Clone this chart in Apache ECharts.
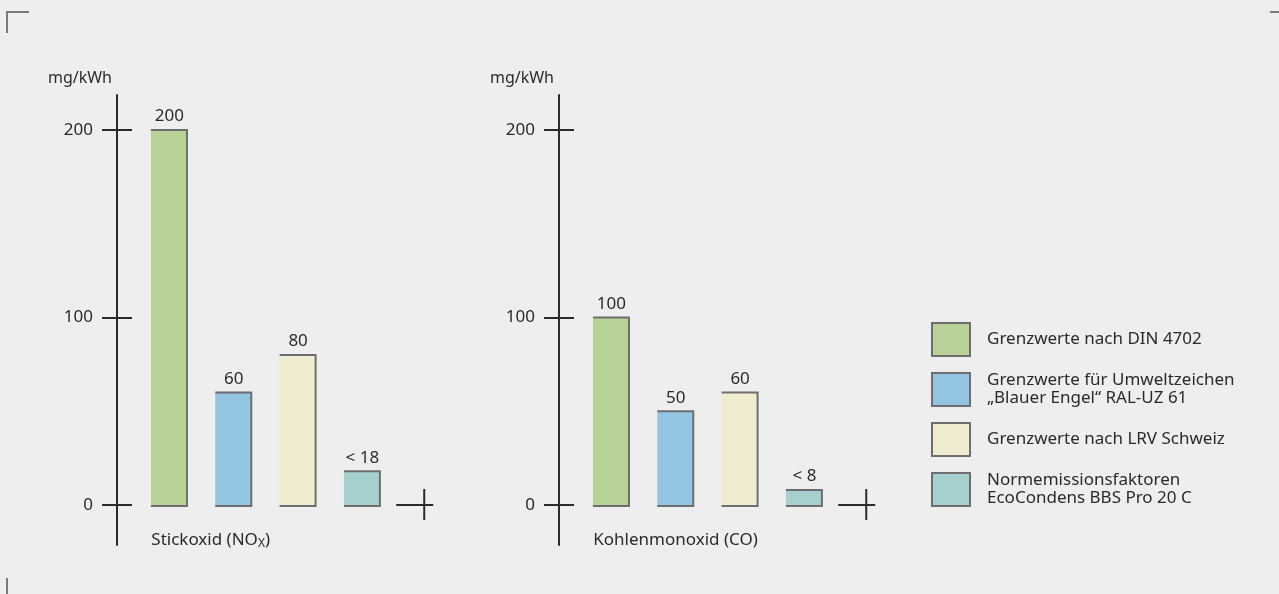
<!DOCTYPE html>
<html>
<head>
<meta charset="utf-8">
<script src="https://cdn.jsdelivr.net/npm/echarts@6/dist/echarts.min.js"></script>
<style>
html,body{margin:0;padding:0;background:#eeeeee;}
#main{width:1279px;height:594px;}
</style>
</head>
<body>
<div id="main"></div>
<script>
const categories = ['DIN 4702', 'Blauer Engel', 'LRV Schweiz', 'EcoCondens', ''];
const legendNames = [
  'Grenzwerte nach DIN 4702',
  'Grenzwerte für Umweltzeichen\n„Blauer Engel“ RAL-UZ 61',
  'Grenzwerte nach LRV Schweiz',
  'Normemissionsfaktoren\nEcoCondens BBS Pro 20 C'
];
const noxValues = [200, 60, 80, 18];
const noxLabels = ['200', '60', '80', '< 18'];
const coValues = [100, 50, 60, 8];
const coLabels = ['100', '50', '60', '< 8'];
const yTicks = [0, 100, 200];
const unitLabel = 'mg/kWh';
const chartTitles = ['Stickoxid (NO{sub|X})', 'Kohlenmonoxid (CO)'];

const colors = ['#b8d298', '#93c4e2', '#f0ecd0', '#a6d0cd'];
const borderColor = '#6e6e70';
const inkColor = '#2a2a2a';
const fontFamily = '"Noto Sans", "Open Sans", sans-serif';
const fontSize = 17;

const chart = echarts.init(document.getElementById('main'), null, {renderer: 'canvas'});

const Y_MIN = -21.33, Y_MAX = 218.67;
const gridLefts = [137.3, 579.3];
const gridW = 321.6;

function makeRender(colorIdx, label) {
  return function (params, api) {
    const base = api.coord([api.value(0), 0]);
    const top = api.coord([api.value(0), api.value(1)]);
    const w = 35;
    const x0 = base[0] - 18.5;
    return {
      type: 'group',
      children: [
        {type: 'rect', shape: {x: x0, y: top[1], width: w + 1, height: base[1] - top[1] + 1},
         style: {fill: colors[colorIdx]}},
        {type: 'polyline',
         shape: {points: [[x0, top[1]], [x0 + w + 1, top[1]], [x0 + w + 1, base[1] + 1], [x0, base[1] + 1]]},
         style: {stroke: borderColor, lineWidth: 2, fill: null}},
        {type: 'text',
         style: {text: label, x: base[0], y: top[1] - 5, align: 'center', verticalAlign: 'bottom',
                 fill: inkColor, font: fontSize + 'px ' + fontFamily}}
      ]
    };
  };
}

const grids = [], xAxes = [], yAxes = [], series = [];
[0, 1].forEach(function (g) {
  grids.push({left: gridLefts[g], width: gridW, top: 95, height: 450});
  xAxes.push({
    type: 'category', gridIndex: g, data: categories,
    axisLine: {show: false, onZero: false}, axisTick: {show: false}, axisLabel: {show: false},
    splitLine: {show: false},
    name: chartTitles[g], nameLocation: 'start', nameGap: -14,
    nameTextStyle: {
      align: 'left', verticalAlign: 'middle', color: inkColor, fontSize: fontSize,
      fontFamily: fontFamily, padding: [0, 0, 10, 0],
      rich: {sub: {fontSize: 12, verticalAlign: 'bottom', padding: [7, 0, 0, 0], color: inkColor, fontFamily: fontFamily}}
    }
  });
  yAxes.push({
    type: 'value', gridIndex: g, min: Y_MIN, max: Y_MAX, position: 'left', offset: 20.3,
    axisLine: {show: true, lineStyle: {color: inkColor, width: 2}},
    axisTick: {show: true, customValues: yTicks, length: 15, lineStyle: {color: inkColor, width: 2}},
    axisLabel: {show: true, customValues: yTicks, margin: 24, color: inkColor, fontSize: fontSize, fontFamily: fontFamily},
    splitLine: {show: false},
    name: unitLabel, nameLocation: 'end', nameGap: 9,
    nameTextStyle: {align: 'right', padding: [0, 5, 0, 0], color: inkColor, fontSize: 16, fontFamily: fontFamily}
  });
  yAxes.push({
    type: 'value', gridIndex: g, min: Y_MIN, max: Y_MAX, position: 'left', offset: 20.3,
    axisLine: {show: false},
    axisTick: {show: true, inside: true, customValues: yTicks, length: 15, lineStyle: {color: inkColor, width: 2}},
    axisLabel: {show: false}, splitLine: {show: false}
  });
  const vals = g === 0 ? noxValues : coValues;
  const labs = g === 0 ? noxLabels : coLabels;
  for (let i = 0; i < 4; i++) {
    series.push({
      type: 'custom', name: legendNames[i], xAxisIndex: g, yAxisIndex: g * 2,
      data: [[i, vals[i]]], renderItem: makeRender(i, labs[i]),
      itemStyle: {color: colors[i]}, silent: true, animation: false
    });
  }
});

chart.setOption({
  backgroundColor: '#eeeeee',
  animation: false,
  grid: grids, xAxis: xAxes, yAxis: yAxes, series: series,
  legend: {
    orient: 'vertical', left: 931, top: 322, padding: 0, itemWidth: 38, itemHeight: 33, itemGap: 14.5,
    selectedMode: false, icon: 'rect',
    itemStyle: {borderColor: borderColor, borderWidth: 2},
    textStyle: {color: inkColor, fontSize: fontSize, fontFamily: fontFamily, lineHeight: 18, padding: [0, 0, 0, 12]},
    data: legendNames.map(function (n, i) {
      return {name: n, itemStyle: {color: colors[i], borderColor: borderColor, borderWidth: 2}};
    })
  }
});

// decorative crosses at end of x baseline and crop marks
const gfx = [];
[0, 1].forEach(function (g) {
  const p = chart.convertToPixel({xAxisIndex: g, yAxisIndex: g * 2}, [4, 0]);
  const cx = p[0] - 2.5, cy = p[1];
  gfx.push({type: 'line', shape: {x1: cx - 28, y1: cy, x2: cx + 9, y2: cy}, style: {stroke: inkColor, lineWidth: 2}});
  gfx.push({type: 'line', shape: {x1: cx, y1: cy - 16, x2: cx, y2: cy + 15}, style: {stroke: inkColor, lineWidth: 2}});
});
const markColor = '#7a7a7a';
gfx.push({type: 'polyline', shape: {points: [[7, 33], [7, 12], [29, 12]]}, style: {stroke: markColor, lineWidth: 2, fill: null}});
gfx.push({type: 'line', shape: {x1: 1270, y1: 12, x2: 1279, y2: 12}, style: {stroke: markColor, lineWidth: 2}});
gfx.push({type: 'line', shape: {x1: 7, y1: 578, x2: 7, y2: 594}, style: {stroke: markColor, lineWidth: 2}});
chart.setOption({graphic: gfx});
</script>
</body>
</html>
